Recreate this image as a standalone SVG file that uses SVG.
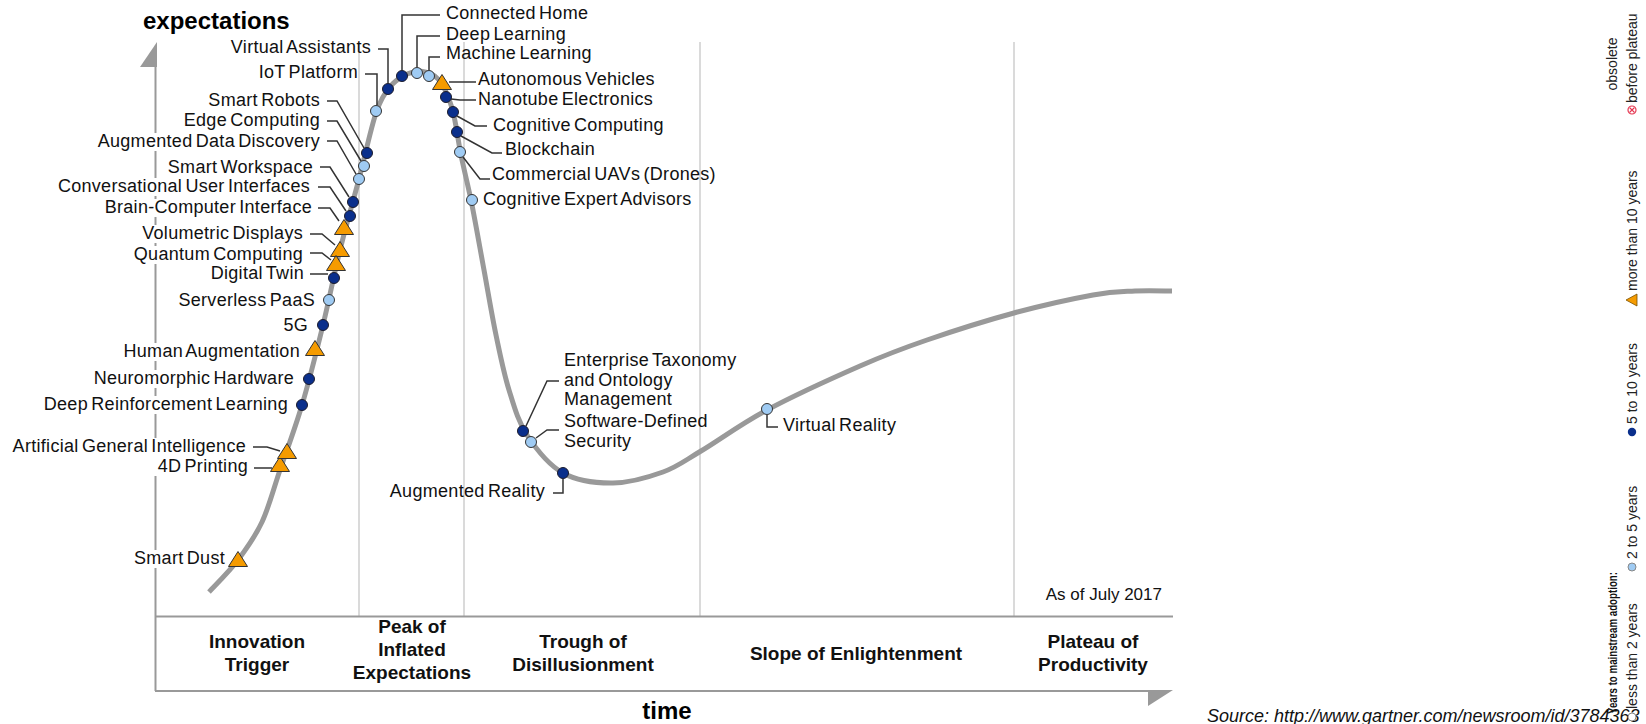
<svg xmlns="http://www.w3.org/2000/svg" xmlns:xlink="http://www.w3.org/1999/xlink" width="1646" height="724" viewBox="0 0 1646 724">
<style>
text{font-family:"Liberation Sans",Arial,Helvetica,sans-serif}
.lbl{font-size:18px;fill:#111;letter-spacing:0.3px;word-spacing:-2px}
.end{text-anchor:end}
.phase{font-size:19px;font-weight:bold;fill:#111;text-anchor:middle}
.title{font-size:24px;font-weight:bold;fill:#000}
.grid{stroke:#dadada;stroke-width:2;fill:none}
.axis{stroke:#999;stroke-width:2;fill:none}
.curve{stroke:#999;stroke-width:5;fill:none}
.conn{stroke:#333;stroke-width:1.5;fill:none}
.d{fill:#0a2f8c;stroke:#1c1c2c;stroke-width:1}
.l{fill:#9fcbf3;stroke:#333;stroke-width:1}
.t{fill:#f59b00;stroke:#333;stroke-width:1}
.leg{font-size:14px;fill:#222}
.legb{font-size:12.5px;font-weight:bold;fill:#111}
</style>
<defs>
<circle id="dot" r="5.5"/>
<path id="tri" d="M0,-8.5 L9.5,6.5 L-9.5,6.5 Z"/>
</defs>
<rect width="1646" height="724" fill="#fff"/>
<g id="grid">
<line class="grid" x1="359" y1="42" x2="359" y2="616"/>
<line class="grid" x1="464" y1="42" x2="464" y2="616"/>
<line class="grid" x1="700" y1="42" x2="700" y2="616"/>
<line class="grid" x1="1014" y1="42" x2="1014" y2="616"/>
</g>
<g id="axes">
<path class="axis" d="M155.5,67 V133 M155.5,151 V178 M155.5,196 V199 M155.5,217 V225 M155.5,243 V246 M155.5,264 V343 M155.5,361 V370 M155.5,388 V396 M155.5,414 V438 M155.5,476 V550 M155.5,568 V691"/>
<polygon points="157,42 140,67 157,67" fill="#999"/>
<line class="axis" x1="155" y1="616.5" x2="1173" y2="616.5"/>
<line class="axis" x1="155" y1="691" x2="1150" y2="691"/>
<polygon points="1173,690 1148,690 1148,706" fill="#999"/>
<text class="title" x="143" y="29">expectations</text>
<text class="title" x="667" y="719" text-anchor="middle">time</text>
<text x="1162" y="600" text-anchor="end" style="font-size:17px;fill:#111">As of July 2017</text>
</g>
<g id="phases">
<text class="phase" x="257" y="648">Innovation<tspan x="257" y="671">Trigger</tspan></text>
<text class="phase" x="412" y="633">Peak of<tspan x="412" y="656">Inflated</tspan><tspan x="412" y="679">Expectations</tspan></text>
<text class="phase" x="583" y="648">Trough of<tspan x="583" y="671">Disillusionment</tspan></text>
<text class="phase" x="856" y="660">Slope of Enlightenment</text>
<text class="phase" x="1093" y="648">Plateau of<tspan x="1093" y="671">Productivity</tspan></text>
</g>
<path id="hype-curve" class="curve" d="M209,592 C213.8,586.7 229.2,571.7 238,560 C246.8,548.3 255,537 262,522 C269,507 273.3,489.5 280,470 C286.7,450.5 294.8,429.2 302,405 C309.2,380.8 316.7,350.8 323,325 C329.3,299.2 334,274.3 340,250 C346,225.7 353,201.8 359,179 C365,156.2 370.8,128.3 376,113 C381.2,97.7 385.2,93.3 390,87 C394.8,80.7 400,77.7 405,75 C410,72.3 414.5,71.7 420,71 C425.5,71.7 432.7,72.8 438,79 C443.3,85.2 448.2,95.3 452,108 C455.8,120.7 457.7,138.8 461,155 C464.3,171.2 468.2,185.8 472,205 C475.8,224.2 480,248.3 484,270 C488,291.7 491.8,315 496,335 C500.2,355 503.8,373.3 509,390 C514.2,406.7 518,421.2 527,435 C536,448.8 548.7,465 563,473 C577.3,481 596.3,483.2 613,483 C629.7,482.8 648.3,477.3 663,472 C677.7,466.7 683.7,461.3 701,451 C718.3,440.7 740.5,424.2 767,410 C793.5,395.8 833.3,377.7 860,366 C886.7,354.3 901.3,348.8 927,340 C952.7,331.2 986.3,320.5 1014,313 C1041.7,305.5 1072.8,298.7 1093,295 C1113.2,291.3 1121.8,291.7 1135,291 C1148.2,290.3 1165.8,291 1172,291"/>
<g id="connectors">
<path class="conn" d="M254,468 H272"/>
<path class="conn" d="M253,447 H267 L280,451"/>
<path class="conn" d="M310,274 H328"/>
<path class="conn" d="M310,253 H322 L331,260"/>
<path class="conn" d="M310,234 H322 L335,245"/>
<path class="conn" d="M318,208 H330 L339,221"/>
<path class="conn" d="M318,187 H330 L346,211"/>
<path class="conn" d="M320,167 H330 L349,197"/>
<path class="conn" d="M327,141 H337 L356,174"/>
<path class="conn" d="M327,121 H337 L361,161"/>
<path class="conn" d="M327,101 H337 L364,148"/>
<path class="conn" d="M365,74 H377 V105"/>
<path class="conn" d="M378,49 H388 V83"/>
<path class="conn" d="M440,15 H402 V70"/>
<path class="conn" d="M440,36 H417 V67"/>
<path class="conn" d="M440,57 H429 V70"/>
<path class="conn" d="M449,82 H476"/>
<path class="conn" d="M451,99 L460,100 H476"/>
<path class="conn" d="M457,116 L475,126 H487"/>
<path class="conn" d="M461,136 L492,153 H502"/>
<path class="conn" d="M463,157 L480,179 H490"/>
<path class="conn" d="M526,426 L547,381 H559"/>
<path class="conn" d="M536,438 L547,430 H559"/>
<path class="conn" d="M563,479 V493 H553"/>
<path class="conn" d="M767,415 V427 H778"/>
</g>
<g id="smart-dust"><use xlink:href="#tri" class="t" x="238" y="560"/><text class="lbl end" x="225" y="564">Smart Dust</text></g>
<g id="4d-printing"><use xlink:href="#tri" class="t" x="280" y="465"/><text class="lbl end" x="248" y="472">4D Printing</text></g>
<g id="artificial-general-intelligence"><use xlink:href="#tri" class="t" x="287" y="452"/><text class="lbl end" x="246" y="452">Artificial General Intelligence</text></g>
<g id="deep-reinforcement-learning"><use xlink:href="#dot" class="d" x="302" y="405"/><text class="lbl end" x="288" y="410">Deep Reinforcement Learning</text></g>
<g id="neuromorphic-hardware"><use xlink:href="#dot" class="d" x="309" y="379"/><text class="lbl end" x="294" y="384">Neuromorphic Hardware</text></g>
<g id="human-augmentation"><use xlink:href="#tri" class="t" x="315" y="349"/><text class="lbl end" x="300" y="357">Human Augmentation</text></g>
<g id="5g"><use xlink:href="#dot" class="d" x="323" y="325"/><text class="lbl end" x="308" y="331">5G</text></g>
<g id="serverless-paas"><use xlink:href="#dot" class="l" x="329" y="300"/><text class="lbl end" x="315" y="306">Serverless PaaS</text></g>
<g id="digital-twin"><use xlink:href="#dot" class="d" x="334" y="278"/><text class="lbl end" x="304" y="279">Digital Twin</text></g>
<g id="volumetric-displays"><use xlink:href="#tri" class="t" x="340" y="250"/><text class="lbl end" x="303" y="239">Volumetric Displays</text></g>
<g id="quantum-computing"><use xlink:href="#tri" class="t" x="336" y="264"/><text class="lbl end" x="303" y="260">Quantum Computing</text></g>
<g id="brain-computer-interface"><use xlink:href="#tri" class="t" x="344" y="228"/><text class="lbl end" x="312" y="213">Brain-Computer Interface</text></g>
<g id="conversational-user-interfaces"><use xlink:href="#dot" class="d" x="350" y="216"/><text class="lbl end" x="310" y="192">Conversational User Interfaces</text></g>
<g id="smart-workspace"><use xlink:href="#dot" class="d" x="353" y="202"/><text class="lbl end" x="313" y="173">Smart Workspace</text></g>
<g id="augmented-data-discovery"><use xlink:href="#dot" class="l" x="359" y="179"/><text class="lbl end" x="320" y="147">Augmented Data Discovery</text></g>
<g id="edge-computing"><use xlink:href="#dot" class="l" x="364" y="166"/><text class="lbl end" x="320" y="126">Edge Computing</text></g>
<g id="smart-robots"><use xlink:href="#dot" class="d" x="367" y="153"/><text class="lbl end" x="320" y="106">Smart Robots</text></g>
<g id="iot-platform"><use xlink:href="#dot" class="l" x="376" y="111"/><text class="lbl end" x="358" y="78">IoT Platform</text></g>
<g id="virtual-assistants"><use xlink:href="#dot" class="d" x="388" y="89"/><text class="lbl end" x="371" y="53">Virtual Assistants</text></g>
<g id="connected-home"><use xlink:href="#dot" class="d" x="402" y="76"/><text class="lbl" x="446" y="19">Connected Home</text></g>
<g id="deep-learning"><use xlink:href="#dot" class="l" x="417" y="73"/><text class="lbl" x="446" y="40">Deep Learning</text></g>
<g id="machine-learning"><use xlink:href="#dot" class="l" x="429" y="76"/><text class="lbl" x="446" y="59">Machine Learning</text></g>
<g id="autonomous-vehicles"><use xlink:href="#tri" class="t" x="442" y="83"/><text class="lbl" x="478" y="85">Autonomous Vehicles</text></g>
<g id="nanotube-electronics"><use xlink:href="#dot" class="d" x="446" y="97"/><text class="lbl" x="478" y="105">Nanotube Electronics</text></g>
<g id="cognitive-computing"><use xlink:href="#dot" class="d" x="453" y="112"/><text class="lbl" x="493" y="131">Cognitive Computing</text></g>
<g id="blockchain"><use xlink:href="#dot" class="d" x="457" y="132"/><text class="lbl" x="505" y="155">Blockchain</text></g>
<g id="commercial-uavs"><use xlink:href="#dot" class="l" x="460" y="152"/><text class="lbl" x="492" y="180">Commercial UAVs (Drones)</text></g>
<g id="cognitive-expert-advisors"><use xlink:href="#dot" class="l" x="472" y="200"/><text class="lbl" x="483" y="205">Cognitive Expert Advisors</text></g>
<g id="enterprise-taxonomy"><use xlink:href="#dot" class="d" x="523" y="431"/><text class="lbl" x="564" y="366">Enterprise Taxonomy<tspan x="564" y="386">and Ontology</tspan><tspan x="564" y="405">Management</tspan></text></g>
<g id="software-defined-security"><use xlink:href="#dot" class="l" x="531" y="442"/><text class="lbl" x="564" y="427">Software-Defined<tspan x="564" y="447">Security</tspan></text></g>
<g id="augmented-reality"><use xlink:href="#dot" class="d" x="563" y="473"/><text class="lbl end" x="545" y="497">Augmented Reality</text></g>
<g id="virtual-reality"><use xlink:href="#dot" class="l" x="767" y="409"/><text class="lbl" x="783" y="431">Virtual Reality</text></g>
<text x="1207" y="722" style="font-size:18px;font-style:italic;fill:#111">Source: http://www.gartner.com/newsroom/id/3784363</text>
<g id="legend">
<text class="legb" transform="translate(1617,714) rotate(-90)" textLength="142" lengthAdjust="spacingAndGlyphs">Years to mainstream adoption:</text>
<circle cx="1632" cy="717" r="4" fill="#fff" stroke="#888" stroke-width="1"/>
<text class="leg" transform="translate(1637,709) rotate(-90)">less than 2 years</text>
<circle cx="1632" cy="567" r="4" fill="#9fcbf3" stroke="#888" stroke-width="1"/>
<text class="leg" transform="translate(1637,559) rotate(-90)">2 to 5 years</text>
<circle cx="1632" cy="432" r="4.2" fill="#0a2f8c"/>
<text class="leg" transform="translate(1637,424) rotate(-90)">5 to 10 years</text>
<polygon points="1626,300 1637,294 1637,306" fill="#f59b00" stroke="#7a5000" stroke-width="0.8"/>
<text class="leg" transform="translate(1637,291) rotate(-90)">more than 10 years</text>
<circle cx="1632" cy="110" r="4" fill="#fff" stroke="#e5344f" stroke-width="1.2"/>
<path d="M1629.5,107.5 L1634.5,112.5 M1634.5,107.5 L1629.5,112.5" stroke="#e5344f" stroke-width="1.1"/>
<text class="leg" transform="translate(1637,103) rotate(-90)">before plateau</text>
<text class="leg" transform="translate(1617,64) rotate(-90)" text-anchor="middle">obsolete</text>
</g>
</svg>
